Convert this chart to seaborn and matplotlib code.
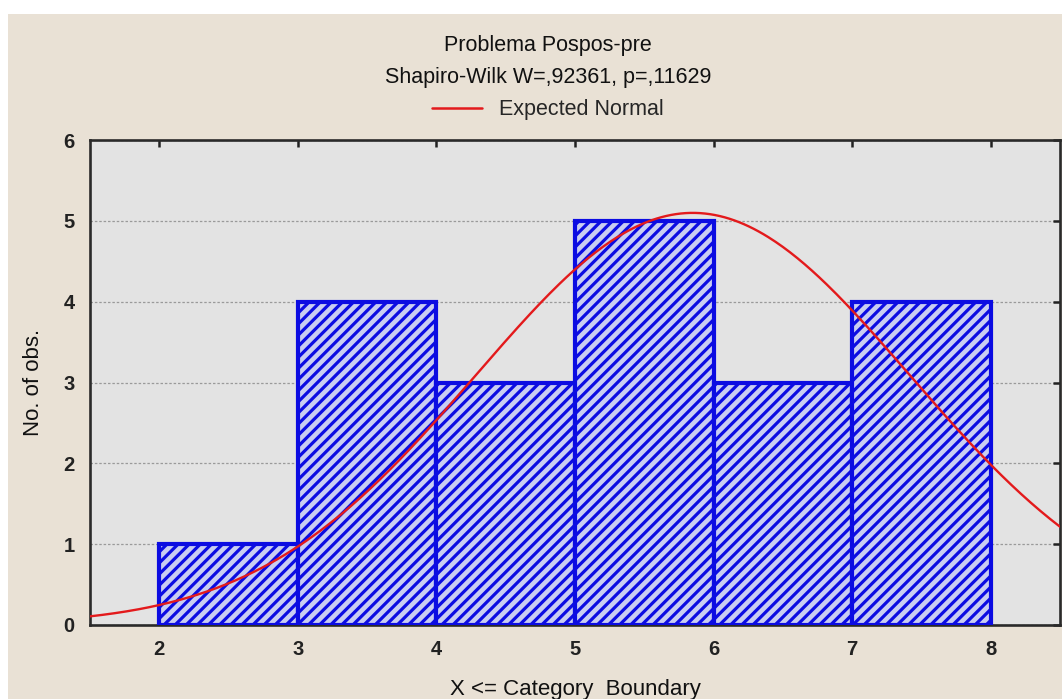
import numpy as np
import pandas as pd
import matplotlib
matplotlib.use("Agg")
import matplotlib.pyplot as plt
import seaborn as sns
from matplotlib.lines import Line2D
from matplotlib.patches import Rectangle

# ---- data ----
bin_edges = [2, 3, 4, 5, 6, 7, 8]
bin_counts = [1, 4, 3, 5, 3, 4]
normal_mean = 5.85
normal_sd = 1.565
x_ticks = [2, 3, 4, 5, 6, 7, 8]
y_ticks = [0, 1, 2, 3, 4, 5, 6]
title_line1 = "Problema Pospos-pre"
title_line2 = "Shapiro-Wilk W=,92361, p=,11629"
legend_label = "Expected Normal"
x_label = "X <= Category  Boundary"
y_label = "No. of obs."

sns.set_theme(style="white")
plt.rcParams['font.family'] = ['Liberation Sans', 'DejaVu Sans']
plt.rcParams['hatch.linewidth'] = 2.3

fig = plt.figure(figsize=(10.62, 6.99), dpi=100, facecolor="white")
W, H = 1062, 699
# beige backdrop
fig.patches.append(Rectangle((8 / W, 0), 1 - 8 / W, (H - 14) / H,
                             transform=fig.transFigure, facecolor="#e9e1d5",
                             edgecolor="none", zorder=-10))

left, right, top, bottom = 90, 1060, 140, 625
ax = fig.add_axes([left / W, 1 - bottom / H, (right - left) / W, (bottom - top) / H])
ax.set_facecolor("#e3e3e3")

centers = [(a + b) / 2 for a, b in zip(bin_edges[:-1], bin_edges[1:])]
df = pd.DataFrame({"x": centers, "count": bin_counts})
sns.histplot(data=df, x="x", weights="count", bins=bin_edges, ax=ax,
             stat="count", color="#0000e6", alpha=1,
             facecolor="#c9cdf2", edgecolor="#0c0ce2", linewidth=3.0,
             hatch="///", zorder=3)

total = sum(bin_counts)
width = bin_edges[1] - bin_edges[0]
xs = np.linspace(1.5, 8.5, 400)
ys = total * width * np.exp(-0.5 * ((xs - normal_mean) / normal_sd) ** 2) / (normal_sd * np.sqrt(2 * np.pi))
sns.lineplot(x=xs, y=ys, ax=ax, color="#e31a1c", linewidth=1.7, zorder=5)

ax.set_xlim(1.5, 8.5)
ax.set_ylim(0, 6)
ax.set_xticks(x_ticks)
ax.set_yticks(y_ticks)
ax.yaxis.grid(True, color="#9a9a9a", linestyle=(0, (2, 1.5)), linewidth=0.9, zorder=0)
ax.xaxis.grid(False)
ax.set_axisbelow(True)
for s in ax.spines.values():
    s.set_visible(True)
    s.set_color("#2a2a2a")
    s.set_linewidth(1.9)
ax.tick_params(direction="in", length=5, width=1.8, color="#222222",
               top=True, right=True, labelsize=14.5, labelcolor="#222222")
ax.tick_params(axis="x", pad=11)
ax.tick_params(axis="y", pad=11)
for lab in ax.get_xticklabels() + ax.get_yticklabels():
    lab.set_fontweight("bold")

ax.set_xlabel(x_label, fontsize=16, color="#111111", labelpad=14)
ax.set_ylabel(y_label, fontsize=16, color="#111111", labelpad=14)

fig.text(548 / W, 1 - 45 / H, title_line1, ha="center", va="center", fontsize=15.5, color="#111111")
fig.text(548 / W, 1 - 78 / H, title_line2, ha="center", va="center", fontsize=15.5, color="#111111")
fig.legend(handles=[Line2D([], [], color="#e31a1c", linewidth=1.8)], labels=[legend_label],
           loc="center", bbox_to_anchor=(548 / W, 1 - 110 / H), frameon=False,
           fontsize=15.5, handlelength=2.3, handletextpad=0.8)

fig.savefig("out.png", dpi=100, facecolor=fig.get_facecolor())
